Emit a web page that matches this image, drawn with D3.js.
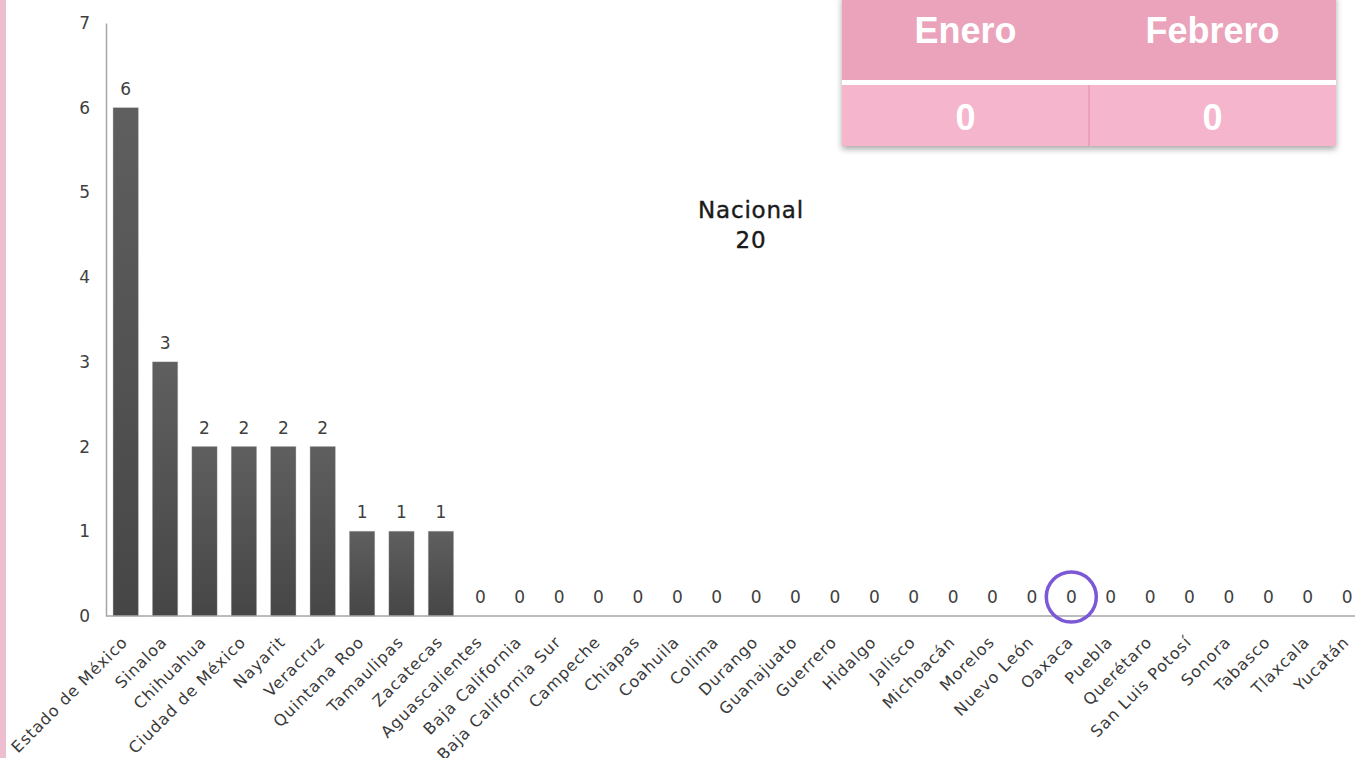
<!DOCTYPE html>
<html>
<head>
<meta charset="utf-8">
<script src="https://cdn.jsdelivr.net/npm/d3@7"></script>
<style>
  body { margin: 0; background: #fff; }
  svg { display: block; }
</style>
</head>
<body>
<div id="chart"></div>
<script>
// datos por estado
var estados = ["Estado de México", "Sinaloa", "Chihuahua", "Ciudad de México", "Nayarit", "Veracruz",
    "Quintana Roo", "Tamaulipas", "Zacatecas", "Aguascalientes", "Baja California", "Baja California Sur",
    "Campeche", "Chiapas", "Coahuila", "Colima", "Durango", "Guanajuato", "Guerrero", "Hidalgo",
    "Jalisco", "Michoacán", "Morelos", "Nuevo León", "Oaxaca", "Puebla", "Querétaro",
    "San Luis Potosí", "Sonora", "Tabasco", "Tlaxcala", "Yucatán"];
var casos = [6, 3, 2, 2, 2, 2, 1, 1, 1, 0, 0, 0, 0, 0, 0, 0, 0, 0, 0, 0, 0, 0, 0, 0, 0, 0, 0, 0, 0, 0, 0, 0];
var yTicks = [0, 1, 2, 3, 4, 5, 6, 7];
var meses = ["Enero", "Febrero"];
var valoresMes = [0, 0];
var nacionalTxt = ["Nacional", "20"];
var resaltado = "Oaxaca";

var W = 1355, H = 758;
var margin = { top: 23, left: 106, bottom: 616 };
var fuente = "'DejaVu Sans', sans-serif";

var svg = d3.select("#chart").append("svg")
    .attr("width", W)
    .attr("height", H);

var defs = svg.append("defs");
var grad = defs.append("linearGradient").attr("id", "barGrad")
    .attr("x1", 0).attr("y1", 0).attr("x2", 0).attr("y2", 1);
grad.append("stop").attr("offset", "0%").attr("stop-color", "#5f5f5f");
grad.append("stop").attr("offset", "100%").attr("stop-color", "#464646");

var sh = defs.append("filter").attr("id", "shadow")
    .attr("x", "-5%").attr("y", "-5%").attr("width", "110%").attr("height", "125%");
sh.append("feDropShadow").attr("dx", 0).attr("dy", 3).attr("stdDeviation", 3)
    .attr("flood-color", "#000").attr("flood-opacity", 0.35);

// franja rosa a la izquierda
svg.append("rect")
    .attr("x", 0).attr("y", 0).attr("width", 6).attr("height", H)
    .attr("fill", "#edbdd0");

var x = d3.scaleBand()
    .domain(estados)
    .range([margin.left, margin.left + 32 * 39.4])
    .paddingInner(0.36)
    .paddingOuter(0.18);

var y = d3.scaleLinear()
    .domain([0, 7])
    .range([margin.bottom, margin.top]);

// eje Y
var yAxis = svg.append("g")
    .attr("transform", "translate(" + margin.left + ",0)")
    .call(d3.axisLeft(y).tickValues(yTicks).tickSize(0).tickPadding(16).tickFormat(d3.format("d")));
yAxis.select(".domain").attr("stroke", "#a6a6a6").attr("stroke-width", 1.5);
yAxis.selectAll("text")
    .style("font-family", fuente)
    .style("font-size", "17px")
    .style("fill", "#404040");

// barras
svg.append("g")
    .selectAll("rect.bar")
    .data(casos)
    .enter()
    .append("rect")
    .attr("class", "bar")
    .attr("x", function (d, i) { return x(estados[i]) })
    .attr("y", function (d) { return y(d) })
    .attr("width", x.bandwidth())
    .attr("height", function (d) { return y(0) - y(d) })
    .attr("fill", "url(#barGrad)")
    .attr("stroke", "#9a9a9a")
    .attr("stroke-opacity", 0.4)
    .attr("stroke-width", 0.8);

// eje X
var xAxis = svg.append("g")
    .attr("transform", "translate(0," + margin.bottom + ")")
    .call(d3.axisBottom(x).tickSize(0).tickPadding(0));
xAxis.select(".domain").remove();
svg.append("line")
    .attr("x1", margin.left).attr("x2", W)
    .attr("y1", margin.bottom).attr("y2", margin.bottom)
    .attr("stroke", "#a6a6a6").attr("stroke-width", 1.5);
xAxis.selectAll("text")
    .attr("text-anchor", "end")
    .attr("y", 0)
    .attr("dy", 0)
    .attr("transform", "translate(3,27) rotate(-45)")
    .style("font-family", fuente)
    .style("font-size", "16px")
    .style("letter-spacing", "1px")
    .style("fill", "#3a3a3a");

// etiquetas de valor
svg.append("g")
    .selectAll("text.val")
    .data(casos)
    .enter()
    .append("text")
    .attr("class", "val")
    .attr("x", function (d, i) { return x(estados[i]) + x.bandwidth() / 2 })
    .attr("y", function (d) { return y(d) - 13 })
    .attr("text-anchor", "middle")
    .style("font-family", fuente)
    .style("font-size", "17px")
    .style("fill", "#404040")
    .text(function (d) { return d });

// círculo sobre Oaxaca
svg.append("circle")
    .attr("cx", x(resaltado) + x.bandwidth() / 2)
    .attr("cy", y(0) - 19)
    .attr("r", 25)
    .attr("fill", "none")
    .attr("stroke", "#7a58d6")
    .attr("stroke-width", 3.5);

// total nacional
svg.append("g")
    .selectAll("text.nac")
    .data(nacionalTxt)
    .enter()
    .append("text")
    .attr("x", 751)
    .attr("y", function (d, i) { return 218 + i * 30 })
    .attr("text-anchor", "middle")
    .style("font-family", fuente)
    .style("font-size", "23px")
    .style("letter-spacing", "0.8px")
    .style("stroke", "#1a1a1a")
    .style("stroke-width", "0.4px")
    .style("fill", "#1a1a1a")
    .text(function (d) { return d });

// tabla de meses
var tx = d3.scaleBand().domain(meses).range([842, 1336]);
var tabla = svg.append("g");
tabla.append("rect")
    .attr("x", 842).attr("y", -5).attr("width", 494).attr("height", 151)
    .attr("fill", "#f5b5cc")
    .attr("filter", "url(#shadow)");
tabla.append("rect")
    .attr("x", 842).attr("y", -5).attr("width", 494).attr("height", 85)
    .attr("fill", "#eaa3bb");
tabla.append("rect")
    .attr("x", 842).attr("y", 80).attr("width", 494).attr("height", 5)
    .attr("fill", "#fff");
tabla.append("line")
    .attr("x1", tx("Febrero")).attr("x2", tx("Febrero"))
    .attr("y1", 85).attr("y2", 146)
    .attr("stroke", "#e99ab6").attr("stroke-width", 1.5);
tabla.selectAll("text.mes")
    .data(meses)
    .enter()
    .append("text")
    .attr("x", function (d) { return tx(d) + tx.bandwidth() / 2 })
    .attr("y", 43)
    .attr("text-anchor", "middle")
    .style("font-family", "'Liberation Sans', Arial, sans-serif")
    .style("font-weight", "bold")
    .style("font-size", "36px")
    .style("fill", "#fff")
    .text(function (d) { return d });
tabla.selectAll("text.v")
    .data(valoresMes)
    .enter()
    .append("text")
    .attr("x", function (d, i) { return tx(meses[i]) + tx.bandwidth() / 2 })
    .attr("y", 130)
    .attr("text-anchor", "middle")
    .style("font-family", "'Liberation Sans', Arial, sans-serif")
    .style("font-weight", "bold")
    .style("font-size", "36px")
    .style("fill", "#fff")
    .text(function (d) { return d });
</script>
</body>
</html>
